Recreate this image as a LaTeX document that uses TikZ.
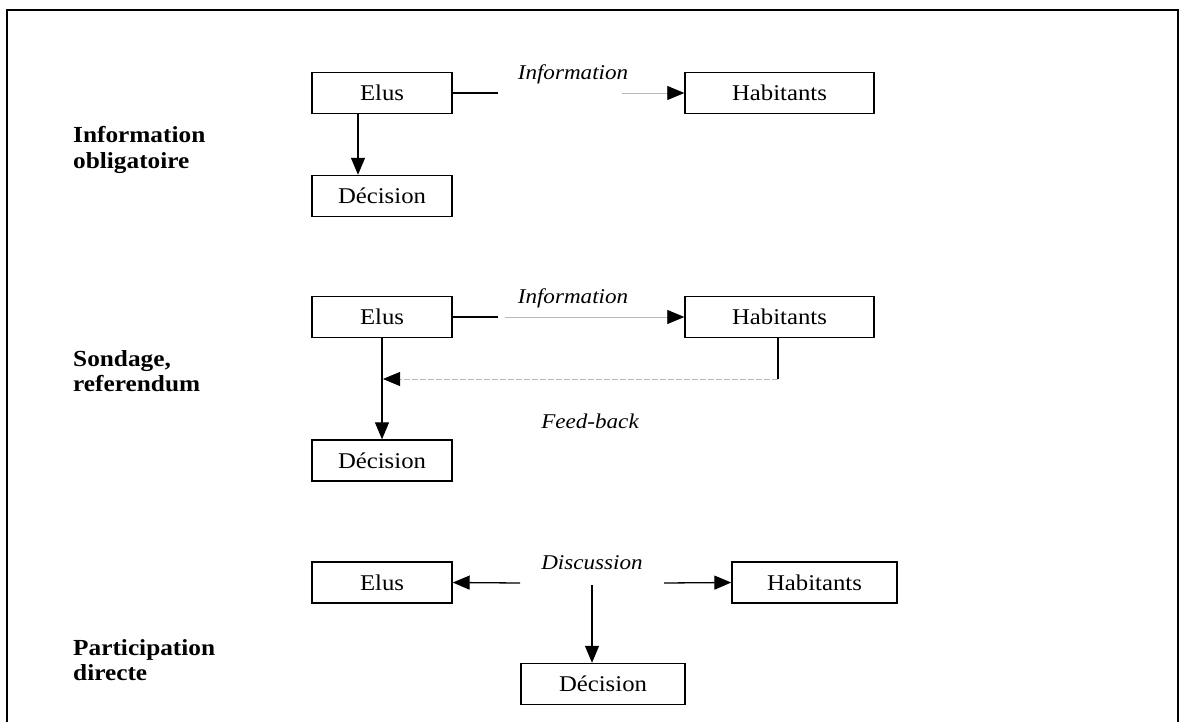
\documentclass[tikz,border=0pt]{standalone}
\usepackage{fontspec}
\setmainfont[FakeStretch=1.1]{Liberation Serif}
\usetikzlibrary{arrows.meta}
\definecolor{lightline}{RGB}{185,185,185}
\tikzset{
  box/.style={draw=black, line width=1.4pt, minimum height=41pt, inner sep=0pt,
              font=\fontsize{22.5}{26}\selectfont},
  lbl/.style={anchor=west, align=left, inner sep=0pt,
              font=\fontsize{23}{25.5}\selectfont\bfseries},
  itl/.style={inner sep=0pt, font=\fontsize{21}{24}\selectfont\itshape},
  solidline/.style={draw=black, line width=1.3pt},
  arr/.style={draw=black, line width=1.3pt, -{Triangle[length=17pt,width=14pt]}},
  greyarr/.style={draw=lightline, line width=0.8pt, -{Triangle[length=17pt,width=14pt,color=black]}},
  greydasharr/.style={draw=lightline, line width=0.8pt, dash pattern=on 6pt off 2pt,
                      -{Triangle[length=17pt,width=14pt,color=black]}},
}
\begin{document}
\begin{tikzpicture}[x=1pt,y=-1pt]
\useasboundingbox (0,0) rectangle (1181,722);
% frame
\draw[line width=1.8pt] (7,722) -- (7,10) -- (1178,10) -- (1178,722);

% ---------- block 1 ----------
\node[lbl] (l1) at (73,150) {Information\\obligatoire};
\node[box, minimum width=140pt] (e1) at (382,93) {Elus};
\node[box, minimum width=140pt] (d1) at (382,196) {Décision};
\node[box, minimum width=189pt] (h1) at (779.5,93) {Habitants};
\node[itl] (i1) at (573,74) {Information};
\coordinate (a1) at (498,93);
\coordinate (b1) at (622,93);
\draw[solidline] (e1.east) -- (a1);
\draw[greyarr] (b1) -- (h1.west);
\draw[arr] ([xshift=-24pt]e1.south) -- ([xshift=-24pt]d1.north);

% ---------- block 2 ----------
\node[lbl] (l2) at (73,371) {Sondage,\\referendum};
\node[box, minimum width=140pt] (e2) at (382,317) {Elus};
\node[box, minimum width=140pt] (d2) at (382,460.5) {Décision};
\node[box, minimum width=189pt] (h2) at (779.5,317) {Habitants};
\node[itl] (i2) at (573,298) {Information};
\node[itl] (f2) at (590,421) {Feed-back};
\coordinate (a2) at (498,317);
\coordinate (b2) at (505,317);
\coordinate (c2) at (778,379);
\coordinate (g2) at (383,379);
\draw[solidline] (e2.east) -- (a2);
\draw[greyarr] (b2) -- (h2.west);
\draw[solidline] (h2.south -| c2) -- (c2);
\draw[greydasharr] (c2) -- (g2);
\draw[arr] (e2.south) -- (d2.north);

% ---------- block 3 ----------
\node[lbl] (l3) at (73,660) {Participation\\directe};
\node[box, minimum width=140pt] (e3) at (382,582.5) {Elus};
\node[box, minimum width=165pt] (h3) at (814.5,582.5) {Habitants};
\node[box, minimum width=164pt] (d3) at (603,684) {Décision};
\node[itl] (t3) at (592,563) {Discussion};
\coordinate (p3) at (520,583);
\coordinate (q3) at (664,583);
\coordinate (r3) at (592,585);
\draw[arr] (p3) -- (e3.east);
\draw[arr] (q3) -- (h3.west);
\draw[arr] (r3) -- (r3 |- d3.north);
\end{tikzpicture}
\end{document}
